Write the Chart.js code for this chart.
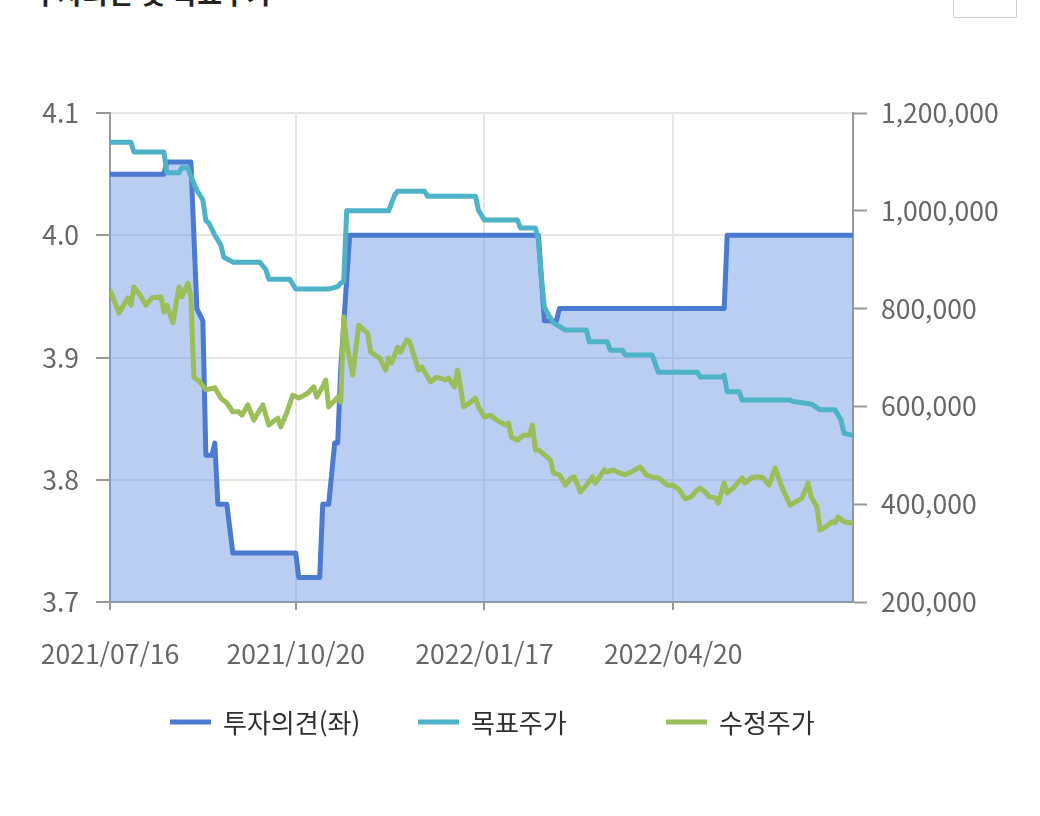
<!DOCTYPE html>
<html lang="ko">
<head>
<meta charset="utf-8">
<title>투자의견 및 목표주가</title>
<script src="https://cdn.jsdelivr.net/npm/chart.js@4.4.1/dist/chart.umd.min.js"></script>
<style>
  html, body { margin: 0; padding: 0; background: #fff; }
  #wrap { position: relative; width: 1040px; height: 816px; overflow: hidden; }
  #title { position: absolute; left: 33px; top: -27px; font: bold 27px "Noto Sans CJK KR", sans-serif; color: #222; white-space: nowrap; }
  #btn { position: absolute; left: 953px; top: -4px; width: 62px; height: 20px; border: 1px solid #ccc; border-radius: 2px; background: #fff; }
  canvas { position: absolute; left: 0; top: 0; }
</style>
</head>
<body>
<div id="wrap">
  <div id="title">투자의견 및 목표주가</div>
  <div id="btn"></div>
  <canvas id="chart" width="1040" height="816"></canvas>
</div>
<script>
// x는 거래일 순번 (0 = 2021/07/16)
const tickIdx = [0, 62, 125, 188];
const tickLabels = ['2021/07/16', '2021/10/20', '2022/01/17', '2022/04/20'];

// 투자의견(좌)
const opinionIdx = [0, 18, 19, 27, 29, 31, 32, 34, 35, 36, 39, 41, 62, 63, 70, 71, 73, 75, 76, 77, 80, 143, 145, 149, 150, 205, 206, 248];
const opinionVal = [4.05, 4.05, 4.06, 4.06, 3.94, 3.93, 3.82, 3.82, 3.83, 3.78, 3.78, 3.74, 3.74, 3.72, 3.72, 3.78, 3.78, 3.83, 3.83, 3.89, 4.0, 4.0, 3.93, 3.93, 3.94, 3.94, 4.0, 4.0];

// 목표주가
const targetIdx = [0, 7, 8, 18, 19, 23, 24, 26, 27, 29, 31, 32, 33, 35, 37, 38, 41, 50, 52, 53, 60, 62, 73, 76, 77, 78, 79, 80, 93, 95, 96, 99, 105, 106, 122, 123, 125, 136, 137, 142, 143, 144, 145, 146, 148, 152, 153, 159, 160, 166, 167, 171, 172, 181, 183, 196, 197, 204, 205, 206, 210, 211, 227, 228, 234, 237, 242, 244, 245, 248];
const targetVal = [1140000, 1140000, 1120000, 1120000, 1078000, 1078000, 1088000, 1088000, 1070000, 1042000, 1022000, 980000, 975000, 950000, 930000, 905000, 895000, 895000, 880000, 860000, 860000, 840000, 840000, 845000, 852000, 855000, 1000000, 1000000, 1000000, 1032000, 1040000, 1040000, 1040000, 1030000, 1030000, 1001000, 981000, 981000, 965000, 965000, 940000, 860000, 803000, 791000, 771000, 756000, 756000, 756000, 732000, 732000, 715000, 715000, 705000, 705000, 670000, 670000, 660000, 660000, 664000, 630000, 630000, 613000, 613000, 610000, 605000, 593000, 593000, 572000, 545000, 541000];

// 수정주가
const priceIdx = [0, 3, 6, 7, 8, 10, 12, 14, 17, 18, 19, 21, 23, 24, 26, 27, 28, 30, 32, 35, 37, 39, 41, 43, 44, 46, 48, 51, 53, 56, 57, 59, 61, 63, 66, 68, 69, 71, 72, 73, 76, 77, 78, 79, 81, 83, 86, 87, 90, 92, 93, 94, 96, 97, 99, 100, 103, 104, 107, 109, 112, 113, 115, 116, 117, 118, 120, 122, 123, 125, 127, 129, 132, 133, 134, 136, 138, 140, 141, 142, 143, 146, 147, 148, 150, 152, 154, 155, 157, 159, 161, 162, 165, 166, 168, 170, 172, 174, 177, 179, 182, 183, 186, 188, 190, 192, 194, 196, 197, 199, 200, 202, 203, 205, 206, 208, 211, 212, 214, 216, 218, 220, 222, 224, 227, 229, 231, 233, 234, 236, 237, 239, 241, 242, 243, 245, 247, 248];
const priceVal = [838000, 791000, 822000, 807000, 844000, 828000, 807000, 822000, 824000, 793000, 807000, 771000, 844000, 824000, 852000, 824000, 660000, 650000, 634000, 638000, 617000, 607000, 589000, 589000, 582000, 603000, 572000, 603000, 562000, 576000, 558000, 587000, 623000, 617000, 627000, 640000, 619000, 640000, 654000, 599000, 619000, 609000, 783000, 730000, 664000, 766000, 750000, 711000, 699000, 674000, 699000, 689000, 721000, 711000, 736000, 732000, 674000, 681000, 650000, 660000, 654000, 658000, 640000, 674000, 640000, 599000, 607000, 617000, 599000, 578000, 582000, 572000, 562000, 566000, 537000, 531000, 541000, 541000, 562000, 511000, 511000, 496000, 490000, 464000, 460000, 439000, 454000, 456000, 425000, 439000, 456000, 443000, 470000, 466000, 470000, 464000, 460000, 466000, 476000, 460000, 454000, 454000, 439000, 439000, 429000, 411000, 415000, 429000, 433000, 423000, 415000, 413000, 402000, 443000, 423000, 433000, 454000, 443000, 454000, 456000, 454000, 439000, 474000, 439000, 398000, 405000, 413000, 443000, 415000, 394000, 347000, 354000, 364000, 362000, 374000, 364000, 362000, 364000];

const toPoints = (xs, ys) => xs.map((x, i) => ({ x: x, y: ys[i] }));

const FONT = '"Noto Sans CJK KR", "Noto Sans", sans-serif';
const legendItems = [
    { text: '투자의견(좌)', color: '#4a7bd1' },
    { text: '목표주가', color: '#4fb3c8' },
    { text: '수정주가', color: '#9bbe5a' }
];

// 범례: 고정 간격으로 그림
const bottomLegend = {
    id: 'bottomLegend',
    afterDraw(chart) {
        const c = chart.ctx;
        c.save();
        c.font = '26px ' + FONT;
        c.textBaseline = 'middle';
        legendItems.forEach((it, i) => {
            const x = 170 + i * 248;
            const y = 722;
            c.fillStyle = it.color;
            c.fillRect(x, y - 2.5, 41, 5);
            c.fillStyle = '#2e2e2e';
            c.fillText(it.text, x + 53, y + 1);
        });
        c.restore();
    }
};

const ctx = document.getElementById('chart').getContext('2d');
const chart = new Chart(ctx, {
    type: 'line',
    data: {
        datasets: [{
            label: '투자의견(좌)',
            data: toPoints(opinionIdx, opinionVal),
            yAxisID: 'y',
            borderColor: '#4a7bd1',
            backgroundColor: 'rgba(100,146,222,0.45)',
            borderWidth: 5,
            fill: 'start',
            order: 3
        }, {
            label: '목표주가',
            data: toPoints(targetIdx, targetVal),
            yAxisID: 'y1',
            borderColor: '#4fb3c8',
            borderWidth: 5,
            fill: false,
            order: 2
        }, {
            label: '수정주가',
            data: toPoints(priceIdx, priceVal),
            yAxisID: 'y1',
            borderColor: '#9bbe5a',
            borderWidth: 5,
            fill: false,
            order: 1
        }]
    },
    options: {
        responsive: false,
        animation: false,
        devicePixelRatio: 1,
        layout: { padding: { top: 113, left: 0, right: 0, bottom: 0 } },
        elements: { point: { radius: 0 }, line: { tension: 0, borderJoinStyle: 'round' } },
        plugins: {
            legend: { display: false },
            tooltip: { enabled: false },
            filler: { drawTime: 'beforeDatasetsDraw' }
        },
        scales: {
            x: {
                type: 'linear',
                min: 0,
                max: 248,
                afterBuildTicks: s => { s.ticks = tickIdx.map(v => ({ value: v })); },
                afterFit: s => { s.height = 214; },
                ticks: {
                    autoSkip: false,
                    maxRotation: 0,
                    padding: 28,
                    color: '#666',
                    font: { family: FONT, size: 26.5 },
                    callback: v => tickLabels[tickIdx.indexOf(v)]
                },
                grid: { color: '#e6e6e6', lineWidth: 2, tickLength: 8, tickColor: '#999', tickWidth: 2 },
                border: { color: '#999', width: 2 }
            },
            y: {
                position: 'left',
                min: 3.7,
                max: 4.1,
                afterBuildTicks: s => { s.ticks = [3.7, 3.8, 3.9, 4.0, 4.1].map(v => ({ value: v })); },
                afterFit: s => { s.width = 110; },
                ticks: {
                    padding: 17,
                    color: '#666',
                    font: { family: FONT, size: 26.5 },
                    callback: v => v.toFixed(1)
                },
                grid: { color: '#e6e6e6', lineWidth: 2, tickLength: 14, tickColor: '#999', tickWidth: 2 },
                border: { color: '#999', width: 2 }
            },
            y1: {
                position: 'right',
                min: 200000,
                max: 1200000,
                afterBuildTicks: s => { s.ticks = [200000, 400000, 600000, 800000, 1000000, 1200000].map(v => ({ value: v })); },
                afterFit: s => { s.width = 187; },
                ticks: {
                    padding: 14,
                    color: '#666',
                    font: { family: FONT, size: 26.5 },
                    callback: v => v.toLocaleString('en-US')
                },
                grid: { drawOnChartArea: false, tickLength: 14, tickColor: '#999', tickWidth: 2 },
                border: { color: '#999', width: 2 }
            }
        }
    },
    plugins: [bottomLegend]
});
</script>
</body>
</html>
